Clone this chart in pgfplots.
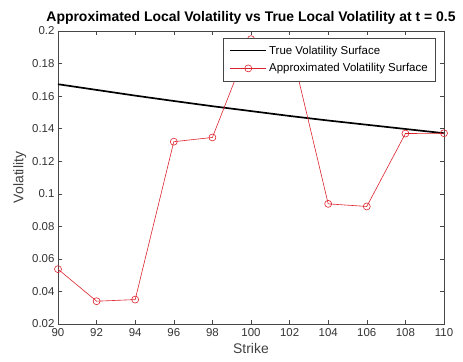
\documentclass[border=0pt]{standalone}
\usepackage{pgfplots}
\pgfplotsset{compat=1.18}
\usepackage{fontspec}
\setmainfont{Liberation Sans}
\definecolor{approxred}{RGB}{220,35,45}
\definecolor{axisgray}{RGB}{70,70,70}

\begin{document}
\begin{tikzpicture}[x=1bp,y=1bp]
\begin{axis}[
  name=ax,
  width=386bp, height=293bp,
  scale only axis,
  xmin=90, xmax=110, ymin=0.02, ymax=0.2,
  xtick={90,92,...,110},
  ytick={0.02,0.04,...,0.2},
  tick align=inside,
  major tick length=4bp,
  axis line style={axisgray},
  every tick/.style={axisgray},
  tick label style={font=\fontsize{11.5}{13}\selectfont, text=black!80},
  xticklabel style={yshift=-1bp},
  /pgf/number format/assume math mode=true,
  yticklabel style={/pgf/number format/fixed, /pgf/number format/precision=2},
  xlabel={Strike}, ylabel={Volatility},
  label style={font=\fontsize{14}{16}\selectfont, text=black!75},
  xlabel style={yshift=0bp},
  ylabel style={yshift=-1bp},
  title={\bfseries Approximated Local Volatility vs True Local Volatility at t = 0.5},
  title style={font=\fontsize{14}{16}\selectfont, yshift=-3bp},
  legend style={at={(0.979,0.976)}, anchor=north east, draw=axisgray,
    font=\fontsize{11.5}{13}\selectfont, fill=white,
    inner xsep=6bp, inner ysep=5.5bp, row sep=4bp},
  legend cell align=left,
  legend image code/.code={
    \draw[#1] (0bp,0bp) -- (36bp,0bp);
    \draw[#1, only marks] plot coordinates {(18bp,0bp)};
  },
  clip=true,
]
\addplot[black, line width=1.7bp, mark=none] coordinates {
  (90,0.1673) (92,0.1638) (94,0.1603) (96,0.1570) (98,0.1538) (100,0.1508)
  (102,0.1478) (104,0.1450) (106,0.1424) (108,0.1398) (110,0.1372)
};
\addlegendentry{True Volatility Surface}
\addplot[approxred, line width=0.6bp, mark=o, mark size=3.5bp,
  mark options={solid, line width=0.6bp}] coordinates {
  (90,0.0537) (92,0.0340) (94,0.0350) (96,0.1320) (98,0.1346) (100,0.1950)
  (102,0.1935) (104,0.0938) (106,0.0922) (108,0.1370) (110,0.1372)
};
\addlegendentry{Approximated Volatility Surface}
\end{axis}
% page frame around the axis box
\path ([xshift=-58bp,yshift=-38bp]ax.south west) rectangle ([xshift=19bp,yshift=31bp]ax.north east);
\end{tikzpicture}
\end{document}
